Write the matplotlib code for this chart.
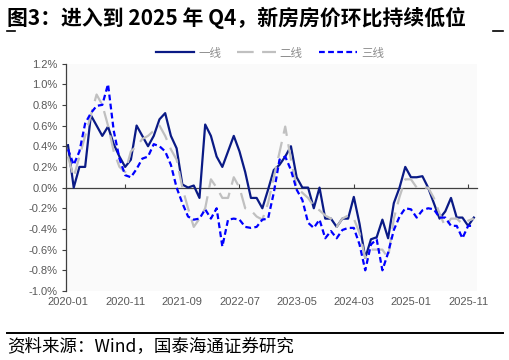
import matplotlib
matplotlib.use("Agg")
import matplotlib.pyplot as plt
from matplotlib.lines import Line2D
import numpy as np

# ---- data (month-on-month %, 2020-01 .. 2025-12) ----
months = [f"{y}-{m:02d}" for y in range(2020, 2026) for m in range(1, 13)]
tier1 = [0.41, 0.0, 0.2, 0.2, 0.7, 0.6, 0.5, 0.59, 0.42, 0.3, 0.2, 0.27,
         0.6, 0.5, 0.4, 0.5, 0.66, 0.72, 0.5, 0.38, 0.03, 0.0, 0.02, -0.1,
         0.61, 0.5, 0.3, 0.2, 0.35, 0.5, 0.35, 0.15, -0.1, -0.1, -0.2, -0.02,
         0.17, 0.22, 0.3, 0.4, 0.1, 0.0, 0.0, -0.2, 0.0, -0.3, -0.3, -0.38,
         -0.3, -0.3, -0.09, -0.35, -0.68, -0.5, -0.48, -0.31, -0.49, -0.15,
         0.0, 0.2, 0.1, 0.1, 0.11, 0.0, -0.15, -0.3, -0.23, -0.1, -0.29,
         -0.29, -0.37, -0.29]
tier2 = [0.3, 0.1, 0.3, 0.5, 0.7, 0.9, 0.8, 0.6, 0.35, 0.2, 0.15, 0.35,
         0.4, 0.47, 0.5, 0.55, 0.6, 0.5, 0.37, 0.27, 0.0, -0.2, -0.38, -0.3,
         -0.2, 0.08, 0.0, -0.1, -0.1, 0.1, 0.0, -0.2, -0.22, -0.28, -0.31,
         -0.15, 0.1, 0.34, 0.59, 0.27, 0.0, -0.05, -0.1, -0.18, -0.22, -0.27,
         -0.3, -0.38, -0.3, -0.27, -0.3, -0.44, -0.68, -0.6, -0.6, -0.6,
         -0.68, -0.3, -0.09, 0.08, 0.08, 0.0, 0.0, 0.0, -0.1, -0.25, -0.38,
         -0.3, -0.3, -0.35, -0.32, -0.3]
tier3 = [0.37, 0.22, 0.35, 0.62, 0.72, 0.79, 0.8, 1.0, 0.55, 0.28, 0.12, 0.1,
         0.18, 0.28, 0.3, 0.42, 0.4, 0.35, 0.22, 0.0, -0.15, -0.28, -0.31,
         -0.3, -0.21, -0.3, -0.2, -0.57, -0.31, -0.3, -0.31, -0.38, -0.39,
         -0.38, -0.31, -0.3, -0.05, 0.27, 0.3, 0.17, -0.02, -0.12, -0.34,
         -0.39, -0.31, -0.49, -0.42, -0.49, -0.41, -0.39, -0.39, -0.55, -0.8,
         -0.55, -0.5, -0.8, -0.63, -0.41, -0.28, -0.2, -0.21, -0.29, -0.22,
         -0.2, -0.21, -0.29, -0.29, -0.37, -0.37, -0.49, -0.37, -0.37]
series_names = ["一线", "二线", "三线"]
label_idx = list(range(0, 71, 10))
tickmark_idx = [10, 30, 50, 70]
yticks = [1.2, 1.0, 0.8, 0.6, 0.4, 0.2, 0.0, -0.2, -0.4, -0.6, -0.8, -1.0]

plt.rcParams['font.family'] = ['Liberation Sans', 'Noto Sans CJK SC', 'DejaVu Sans']
cjk = ['Noto Sans CJK SC', 'DejaVu Sans']

fig = plt.figure(figsize=(5.09, 3.60), dpi=100)
W, H = 509, 360
ax = fig.add_axes([66 / W, 1 - 291 / H, (477 - 66) / W, (291 - 63.5) / H])
ax.set_facecolor('#FAFAFA')

x = np.arange(len(months))
l1, = ax.plot(x, tier1, color='#0A1A85', lw=1.6, solid_joinstyle='round')
l2, = ax.plot(x, tier2, color='#C0C0C0', lw=1.6, dashes=(7.5, 3.8))
l3, = ax.plot(x, tier3, color='#0000FF', lw=1.6, dashes=(2.6, 1.5))

ax.set_xlim(-0.35, 71.55)
ax.set_ylim(-1.0, 1.2)
ax.set_yticks(yticks)
ax.set_yticklabels([f"{v:.1f}%" for v in yticks])
ax.set_xticks(label_idx)
ax.set_xticklabels([months[i] for i in label_idx])
ax.tick_params(axis='x', length=0, pad=4.5, labelsize=8, labelcolor='#595959')
ax.tick_params(axis='y', length=3, width=0.8, color='#404040', pad=3,
               labelsize=8, labelcolor='#595959')
for s in ['top', 'right', 'bottom']:
    ax.spines[s].set_visible(False)
ax.spines['left'].set_color('#404040')
ax.spines['left'].set_linewidth(0.9)

# zero axis with inward tick marks
sec = ax.secondary_xaxis(1.0 / 2.2)
sec.set_xticks(tickmark_idx)
sec.set_xticklabels([])
sec.tick_params(direction='in', length=3, width=0.8, color='#404040')
sec.spines['bottom'].set_color('#404040')
sec.spines['bottom'].set_linewidth(0.9)

fig.legend([l1, l2, l3], series_names, loc='center', bbox_to_anchor=(270 / W, 1 - 53 / H),
           ncol=3, frameon=False, prop={'family': cjk, 'size': 8.3},
           labelcolor='#8C8C8C', handlelength=3.3, handletextpad=0.35,
           columnspacing=1.4)

fig.text(7 / W, 1 - 18 / H, "图3：进入到 2025 年 Q4，新房房价环比持续低位",
         fontsize=15, fontweight='bold', family=cjk, va='center', ha='left',
         color='black')
fig.text(7 / W, 1 - 347 / H, "资料来源：Wind，国泰海通证券研究",
         fontsize=12.6, family=cjk, va='center', ha='left', color='black')

fig.add_artist(Line2D([7 / W, 15 / W], [1 - 31 / H] * 2, color='black', lw=1.2))
fig.add_artist(Line2D([493 / W, 503 / W], [1 - 31 / H] * 2, color='black', lw=1.2))
fig.add_artist(Line2D([7 / W, 503 / W], [1 - 333 / H] * 2, color='black', lw=1.4))

fig.savefig("out.png", dpi=100)
